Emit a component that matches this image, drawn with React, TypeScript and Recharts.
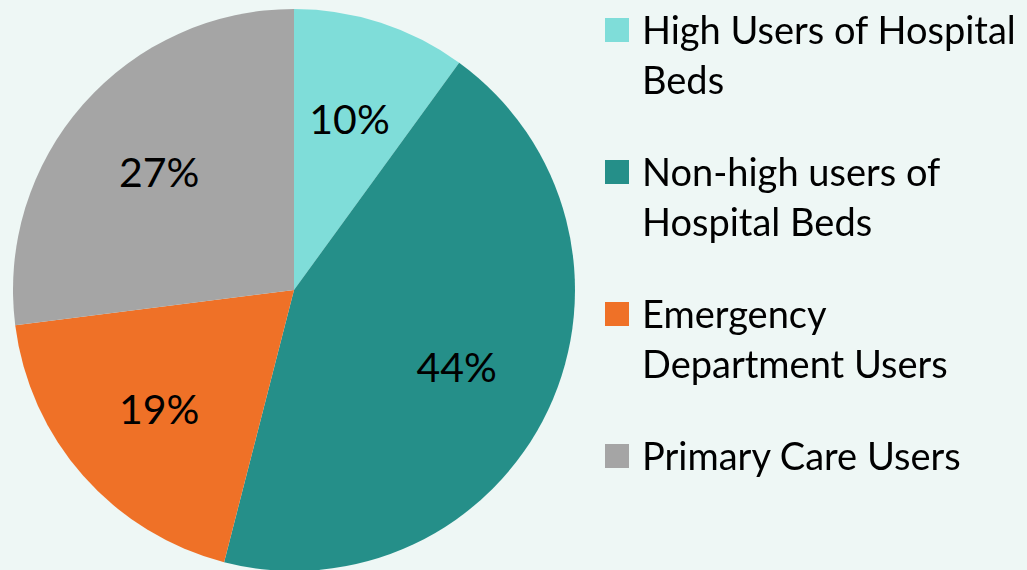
import React from 'react';
import { PieChart, Pie, Cell, Legend } from 'recharts';

const groups = [
  'High Users of Hospital Beds',
  'Non-high users of Hospital Beds',
  'Emergency Department Users',
  'Primary Care Users',
];
const shares = [10, 44, 19, 27];
const colors = ['#7FDDD9', '#258F89', '#EF7127', '#A5A5A5'];

const data = groups.map((name, i) => ({ name, value: shares[i] }));

const FONT = 'Lato, "Open Sans", sans-serif';
const RAD = Math.PI / 180;

const renderLabel = (props: any) => {
  const { cx, cy, midAngle, outerRadius, value } = props;
  const r = outerRadius * 0.64;
  const x = cx + r * Math.cos(-midAngle * RAD);
  const y = cy + r * Math.sin(-midAngle * RAD);
  return (
    <text
      x={x}
      y={y}
      fill="#000"
      fontSize={41}
      fontFamily={FONT}
      textAnchor="middle"
      dominantBaseline="central"
    >
      {value}%
    </text>
  );
};

const renderLegend = () => (
  <div style={{ fontFamily: FONT, fontSize: 38, lineHeight: '50px', color: '#000' }}>
    {groups.map((g, i) => (
      <div key={g} style={{ display: 'flex', alignItems: 'flex-start', marginBottom: 42 }}>
        <span
          style={{
            width: 24,
            height: 24,
            background: colors[i],
            marginTop: 14,
            marginRight: 13,
            flex: 'none',
          }}
        />
        <span style={{ width: 384 }}>{g}</span>
      </div>
    ))}
  </div>
);

export default function App() {
  return (
    <div style={{ position: 'fixed', left: 0, top: 0, width: 1027, height: 570, background: '#EEF7F5' }}>
      <PieChart width={1027} height={570} margin={{ top: 0, right: 0, bottom: 0, left: 0 }}>
        <Pie
          data={data}
          dataKey="value"
          nameKey="name"
          cx={294}
          cy={290}
          outerRadius={281}
          startAngle={90}
          endAngle={-270}
          stroke="none"
          label={renderLabel}
          labelLine={false}
          isAnimationActive={false}
        >
          {data.map((d, i) => (
            <Cell key={d.name} fill={colors[i]} />
          ))}
        </Pie>
        <Legend
          layout="vertical"
          content={renderLegend}
          wrapperStyle={{ position: 'absolute', left: 605, top: 4, width: 430 }}
        />
      </PieChart>
    </div>
  );
}
